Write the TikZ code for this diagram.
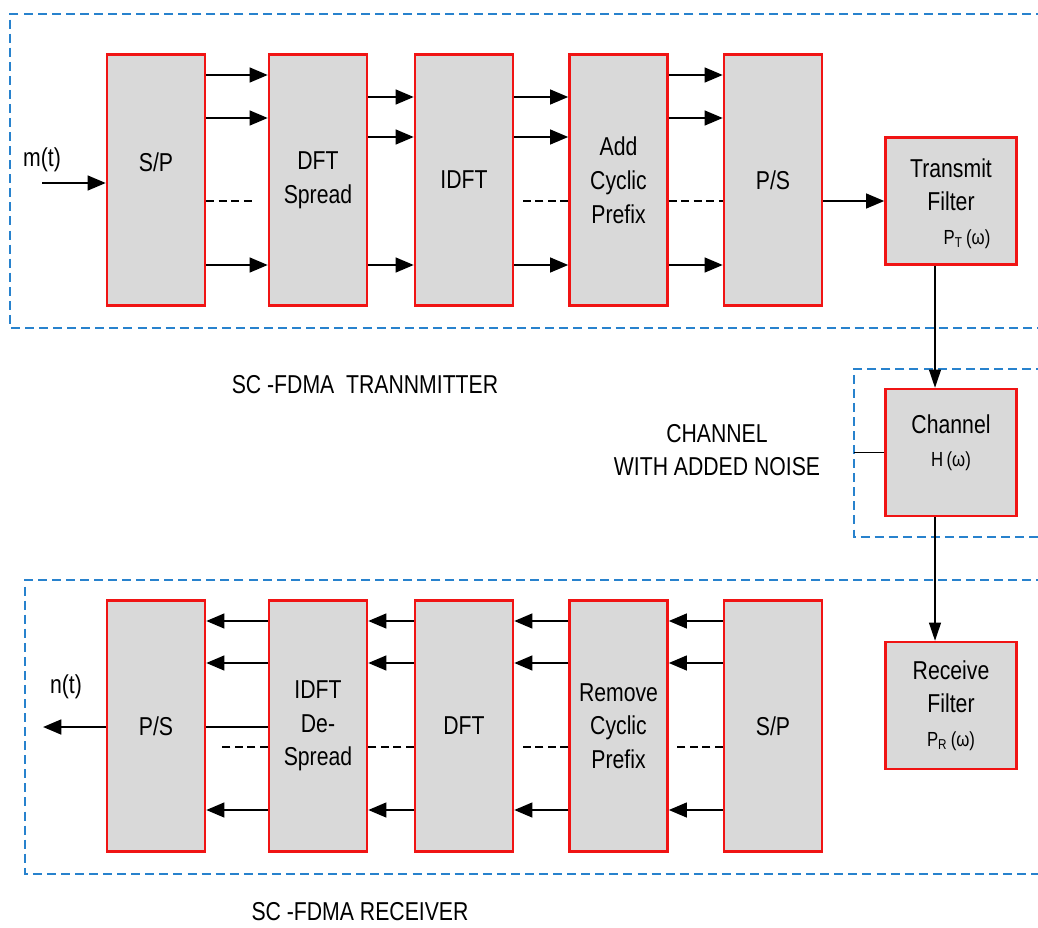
\documentclass[tikz,border=0pt]{standalone}
\usepackage{fontspec}
\setmainfont{Liberation Sans}[FakeStretch=0.82]
\usetikzlibrary{arrows.meta}
\definecolor{frameblue}{RGB}{40,130,205}
\definecolor{boxred}{RGB}{240,20,20}
\definecolor{boxgray}{RGB}{217,217,217}
\newcommand{\smallfs}{\fontsize{14.5}{18}\selectfont}

\tikzset{
  blk/.style={draw=boxred, fill=boxgray, line width=1.7pt, minimum width=2.45cm, minimum height=6.275cm,
    inner sep=0pt, align=center, font=\fontsize{18.4}{24}\selectfont},
  filt/.style={blk, minimum width=3.275cm, minimum height=3.175cm},
  frame/.style={draw=frameblue, line width=1.5pt, dash pattern=on 6.4pt off 3.6pt},
  sig/.style={line width=1.7pt, -{Triangle[length=13pt,width=10.5pt]}},
  dots/.style={line width=1.7pt, dash pattern=on 5.7pt off 3.2pt},
  link/.style={line width=1.1pt, -{Triangle[length=13pt,width=8.5pt]}},
  lbl/.style={font=\fontsize{18.4}{24}\selectfont, align=center}
}

\begin{document}
\begin{tikzpicture}[x=0.025cm, y=-0.025cm]
    \useasboundingbox (0,0) rectangle (1038,927);

    % Frames
    \draw[frame] (1045,14) -| (10,328) -- (1045,328);
    \draw[frame] (1045,369) -| (854,537) -- (1045,537);
    \draw[frame] (1045,580) -| (25,874) -- (1045,874);

    % Transmitter
    \node[blk, text depth=0.9cm] (sp) at (156,180) {S/P};
    \node[blk] (dft) at (318,180) {DFT\\Spread};
    \node[blk] (idft) at (464,180) {IDFT};
    \node[blk] (acp) at (618.5,180) {Add\\Cyclic\\Prefix};
    \node[blk] (ps) at (773,180) {P/S};
    \node[filt] (tf) at (951,201) {\rule{0pt}{0.6cm}Transmit\\Filter\\{\smallfs\hspace*{0.8cm}P\textsubscript{T}\,(ω)}};

    \coordinate (min) at (42,183);
    \node[lbl] (mlbl) at (42,160) {m(t)};
    \draw[sig] (min) -- (sp.west |- min);
    \foreach \y in {75,118,265} {
        \draw[sig] (sp.east |- 0,\y) -- (dft.west |- 0,\y);
        \draw[sig] (acp.east |- 0,\y) -- (ps.west |- 0,\y);
    }
    \foreach \y in {97,137,265} {
        \draw[sig] (dft.east |- 0,\y) -- (idft.west |- 0,\y);
        \draw[sig] (idft.east |- 0,\y) -- (acp.west |- 0,\y);
    }
    \draw[dots] (sp.east |- 0,201) -- ++(49,0);
    \draw[dots] (acp.west |- 0,201) -- ++(-49,0);
    \draw[dots] (acp.east |- 0,201) -- (ps.west |- 0,201);
    \draw[sig] (ps.east |- tf.west) -- (tf.west);

    % Channel
    \node[filt, text depth=0.6cm] (ch) at (951,452.5) {Channel\\{\smallfs H\,(ω)}};
    \coordinate (noise) at (854,452.5);
    \draw[line width=1.1pt] (noise) -- (ch.west);
    \node[filt] (rf) at (951,705.5) {Receive\\Filter\\{\smallfs P\textsubscript{R}\,(ω)}};
    \draw[link] (tf.south -| 935,0) -- (ch.north -| 935,0);
    \draw[link] (ch.south -| 935,0) -- (rf.north -| 935,0);

    % Receiver
    \node[blk] (rps) at (156,726) {P/S};
    \node[blk] (ridsp) at (318,726) {IDFT\\De-\\Spread};
    \node[blk] (rdft) at (464,726) {DFT};
    \node[blk] (rrcp) at (618.5,726) {Remove\\Cyclic\\Prefix};
    \node[blk] (rsp) at (773,726) {S/P};

    \foreach \y in {621,663,810} {
        \draw[sig] (rsp.west |- 0,\y) -- (rrcp.east |- 0,\y);
        \draw[sig] (rrcp.west |- 0,\y) -- (rdft.east |- 0,\y);
        \draw[sig] (rdft.west |- 0,\y) -- (ridsp.east |- 0,\y);
        \draw[sig] (ridsp.west |- 0,\y) -- (rps.east |- 0,\y);
    }
    \draw[dots] (rsp.west |- 0,747) -- ++(-50,0);
    \draw[dots] (rrcp.west |- 0,747) -- ++(-50,0);
    \draw[dots] (rdft.west |- 0,747) -- (ridsp.east |- 0,747);
    \draw[dots] (ridsp.west |- 0,747) -- ++(-50,0);
    \draw[line width=1.7pt] (ridsp.west |- 0,727) -- (rps.east |- 0,727);

    \coordinate (nout) at (43,727);
    \node[lbl] (nlbl) at (66,687) {n(t)};
    \draw[sig] (rps.west |- nout) -- (nout);

    % Labels
    \node[lbl] (txlbl) at (365,385) {SC -FDMA\ \ TRANNMITTER};
    \node[lbl] (chlbl) at (717,450) {CHANNEL\\WITH ADDED NOISE};
    \node[lbl] (rxlbl) at (360,912) {SC -FDMA RECEIVER};
\end{tikzpicture}
\end{document}
